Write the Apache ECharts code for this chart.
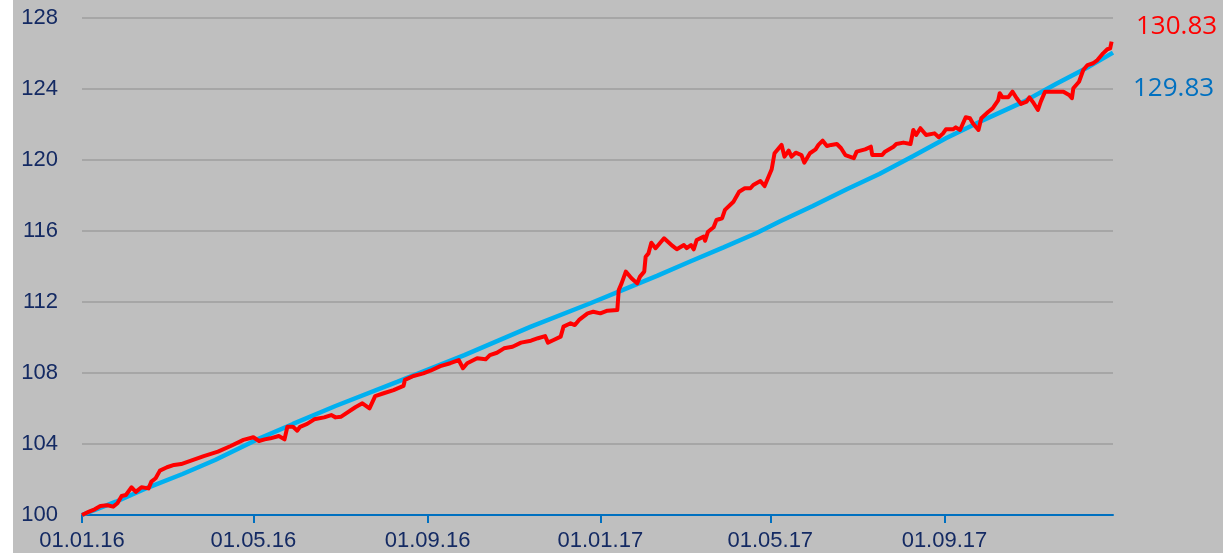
<!DOCTYPE html>
<html>
<head>
<meta charset="utf-8">
<script src="https://cdn.jsdelivr.net/npm/echarts@6/dist/echarts.min.js"></script>
<style>
html,body{margin:0;padding:0;background:#ffffff;width:1223px;height:553px;overflow:hidden;}
#main{position:absolute;left:13px;top:0;width:1210px;height:553px;}
</style>
</head>
<body>
<div id="main"></div>
<script>
// ---- data ----
const startDate = '2016-01-01';
const endDate = '2017-12-29';
const tickDates = ['2016-01-01','2016-05-01','2016-09-01','2017-01-01','2017-05-01','2017-09-01'];
const yTicks = [100,104,108,112,116,120,124,128];
const endTexts = ['130.83','129.83'];

const blueDates = ['2016-01-01','2016-01-25','2016-02-17','2016-03-12','2016-04-04','2016-05-03','2016-05-29','2016-06-28','2016-08-11','2016-09-27','2016-11-13','2016-12-25',
'2017-01-17','2017-02-10','2017-03-05','2017-03-29','2017-04-21','2017-05-08','2017-05-31','2017-06-24','2017-07-17','2017-08-10','2017-09-02','2017-09-26','2017-10-10','2017-10-27','2017-11-19','2017-12-12','2017-12-29'];
const blueValues = [100.00,100.75,101.56,102.31,103.10,104.23,105.13,106.14,107.51,109.01,110.61,111.93,
112.68,113.47,114.27,115.08,115.87,116.55,117.41,118.35,119.21,120.23,121.22,122.16,122.67,123.29,124.30,125.26,126.05];

const redDates = [
'2016-01-01','2016-01-06','2016-01-10','2016-01-14','2016-01-19','2016-01-23','2016-01-26','2016-01-29','2016-02-01','2016-02-05',
'2016-02-08','2016-02-12','2016-02-17','2016-02-19','2016-02-22','2016-02-25','2016-03-01','2016-03-06','2016-03-11','2016-03-18',
'2016-03-27','2016-04-06','2016-04-15','2016-04-24','2016-05-01','2016-05-05','2016-05-09','2016-05-13','2016-05-19','2016-05-23',
'2016-05-25','2016-05-29','2016-06-01','2016-06-03','2016-06-08','2016-06-13','2016-06-20','2016-06-25','2016-06-28','2016-07-02',
'2016-07-12','2016-07-17','2016-07-22','2016-07-26','2016-08-01','2016-08-08','2016-08-15','2016-08-16','2016-08-22','2016-08-29',
'2016-09-03','2016-09-10','2016-09-17','2016-09-23','2016-09-26','2016-09-29','2016-10-06','2016-10-12','2016-10-15','2016-10-20',
'2016-10-25','2016-10-31','2016-11-06','2016-11-13','2016-11-18','2016-11-23','2016-11-25','2016-11-29','2016-12-04','2016-12-06',
'2016-12-11','2016-12-14','2016-12-17','2016-12-23','2016-12-27','2017-01-01','2017-01-06','2017-01-13','2017-01-14','2017-01-16',
'2017-01-19','2017-01-23','2017-01-27','2017-01-29','2017-02-01','2017-02-02','2017-02-04','2017-02-06','2017-02-09','2017-02-15',
'2017-02-21','2017-02-24','2017-03-01','2017-03-03','2017-03-06','2017-03-08','2017-03-10','2017-03-15','2017-03-16','2017-03-18',
'2017-03-22','2017-03-24','2017-03-28','2017-03-30','2017-04-05','2017-04-09','2017-04-13','2017-04-17','2017-04-19','2017-04-24',
'2017-04-27','2017-05-02','2017-05-04','2017-05-09','2017-05-11','2017-05-14','2017-05-16','2017-05-19','2017-05-23','2017-05-25',
'2017-05-29','2017-06-02','2017-06-04','2017-06-07','2017-06-10','2017-06-13','2017-06-17','2017-06-20','2017-06-23','2017-06-29',
'2017-07-01','2017-07-07','2017-07-11','2017-07-12','2017-07-19','2017-07-21','2017-07-27','2017-07-29','2017-08-03','2017-08-08',
'2017-08-10','2017-08-12','2017-08-15','2017-08-19','2017-08-25','2017-08-28','2017-08-31','2017-09-02','2017-09-07','2017-09-09',
'2017-09-12','2017-09-16','2017-09-19','2017-09-21','2017-09-25','2017-09-27','2017-10-02','2017-10-05','2017-10-09','2017-10-10',
'2017-10-12','2017-10-16','2017-10-19','2017-10-22','2017-10-25','2017-10-29','2017-10-31','2017-11-03','2017-11-06','2017-11-08',
'2017-11-11','2017-11-16','2017-11-24','2017-11-28','2017-11-30','2017-12-01','2017-12-05','2017-12-08','2017-12-11','2017-12-15',
'2017-12-18','2017-12-22','2017-12-25','2017-12-27','2017-12-28'];
const redValues = [
100.00,100.19,100.32,100.51,100.55,100.47,100.66,101.07,101.13,101.56,
101.30,101.56,101.50,101.88,102.07,102.50,102.69,102.82,102.87,103.06,
103.32,103.57,103.89,104.23,104.38,104.17,104.26,104.32,104.45,104.26,
104.97,104.97,104.75,104.97,105.13,105.39,105.50,105.63,105.50,105.54,
106.07,106.29,106.01,106.70,106.86,107.04,107.27,107.61,107.83,107.98,
108.13,108.39,108.55,108.73,108.27,108.55,108.83,108.77,109.01,109.14,
109.39,109.48,109.71,109.82,109.96,110.08,109.71,109.86,110.05,110.61,
110.80,110.70,110.99,111.36,111.45,111.36,111.51,111.55,112.68,113.05,
113.71,113.34,113.05,113.43,113.71,114.55,114.74,115.34,115.03,115.59,
115.16,114.97,115.21,115.03,115.21,114.97,115.49,115.68,115.45,115.96,
116.21,116.62,116.72,117.19,117.65,118.21,118.41,118.41,118.59,118.82,
118.53,119.48,120.38,120.85,120.19,120.53,120.19,120.41,120.28,119.85,
120.38,120.60,120.85,121.09,120.79,120.85,120.90,120.66,120.28,120.10,
120.47,120.60,120.75,120.28,120.28,120.47,120.75,120.90,120.98,120.90,
121.69,121.41,121.79,121.41,121.50,121.28,121.50,121.73,121.73,121.84,
121.69,122.41,122.35,122.07,121.69,122.35,122.72,122.91,123.38,123.76,
123.53,123.53,123.85,123.48,123.16,123.29,123.53,123.20,122.82,123.29,
123.85,123.85,123.85,123.66,123.48,124.04,124.41,125.07,125.35,125.45,
125.63,126.01,126.24,126.29,126.67];

// ---- build: dates -> day number on a linear date axis ----
function utc(s){const p=s.split('-');return Date.UTC(+p[0],+p[1]-1,+p[2]);}
const t0 = utc(startDate);
function dayNo(s){return Math.round((utc(s)-t0)/86400000);}
function pad(n){return (n<10?'0':'')+n;}
function fmt(day){const d=new Date(t0+day*86400000);return pad(d.getUTCDate())+'.'+pad(d.getUTCMonth()+1)+'.'+String(d.getUTCFullYear()).slice(2);}
const tickDays = tickDates.map(dayNo);
const blueData = blueDates.map((d,i)=>[dayNo(d),blueValues[i]]);
const redData = redDates.map((d,i)=>[dayNo(d),redValues[i]]);

const labelColor = '#142a63';
const chart = echarts.init(document.getElementById('main'), null, {renderer:'canvas'});
chart.setOption({
  animation:false,
  backgroundColor:'#bfbfbf',
  grid:{left:69,right:110,top:18,bottom:38,containLabel:false},
  xAxis:{
    type:'value',
    min:0,
    max:dayNo(endDate),
    splitLine:{show:false},
    axisLine:{show:true,lineStyle:{color:'#0070c0',width:2}},
    axisTick:{show:true,length:8,lineStyle:{color:'#0070c0',width:2},customValues:tickDays},
    axisLabel:{
      customValues:tickDays,
      color:labelColor,fontSize:22,fontFamily:'Liberation Sans, Arial, sans-serif',margin:15,
      formatter:function(v){return fmt(v);}
    }
  },
  yAxis:{
    type:'value',min:yTicks[0],max:yTicks[yTicks.length-1],interval:4,
    axisLine:{show:false},axisTick:{show:false},
    splitLine:{show:true,lineStyle:{color:'#a6a6a6',width:2}},
    axisLabel:{color:labelColor,fontSize:22,fontFamily:'Liberation Sans, Arial, sans-serif',margin:24}
  },
  series:[
    {name:'blue',type:'line',data:blueData,showSymbol:false,symbol:'none',
     lineStyle:{color:'#00b0f0',width:4.5},z:2},
    {name:'red',type:'line',data:redData,showSymbol:false,symbol:'none',
     lineStyle:{color:'#ff0000',width:4,join:'round'},z:3}
  ],
  graphic:[
    {type:'text',left:1123,top:14,style:{text:endTexts[0],fill:'#ff0000',font:'26px "Open Sans", sans-serif'}},
    {type:'text',left:1120,top:76,style:{text:endTexts[1],fill:'#0070c0',font:'26px "Open Sans", sans-serif'}}
  ]
});
</script>
</body>
</html>
